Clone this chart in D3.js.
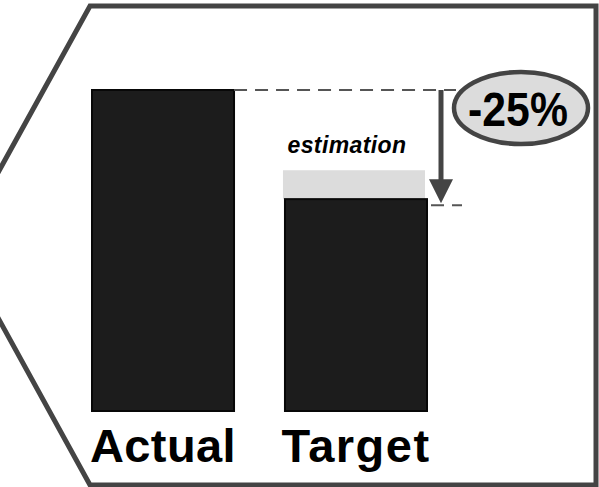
<!DOCTYPE html>
<html>
<head>
<meta charset="utf-8">
<script src="https://cdn.jsdelivr.net/npm/d3@7"></script>
<style>
  body { margin: 0; background: #fff; }
  svg { display: block; }
</style>
</head>
<body>
<div id="chart"></div>
<script>
const categories = ["Actual", "Target"];
const values = [100, 66];
const estimation = [null, 75];
const changeLabel = "-25%";
const estimationLabel = "estimation";

const width = 599, height = 487;

const svg = d3.select("#chart")
  .append("svg")
  .attr("width", width)
  .attr("height", height);

const x = d3.scaleBand()
  .domain(categories)
  .range([92, 427])
  .paddingInner(0.264)
  .paddingOuter(0);

const y = d3.scaleLinear()
  .domain([0, 100])
  .range([411, 90]);

// frame (arrow shape pointing left)
svg.append("path")
  .attr("d", d3.line()([[90, 6], [596, 6], [596, 485], [90, 485], [-42, 245]]) + "Z")
  .attr("fill", "none")
  .attr("stroke", "#444")
  .attr("stroke-width", 5)
  .attr("stroke-linejoin", "miter");

// estimation band
svg.append("g")
  .selectAll("rect")
  .data(categories.filter((d, i) => estimation[i] != null))
  .join("rect")
  .attr("x", d => x(d) - 2)
  .attr("width", x.bandwidth())
  .attr("y", d => y(estimation[categories.indexOf(d)]))
  .attr("height", d => y(values[categories.indexOf(d)]) - y(estimation[categories.indexOf(d)]))
  .attr("fill", "#dcdcdc");

// bars
svg.append("g")
  .selectAll("rect")
  .data(categories)
  .join("rect")
  .attr("x", d => x(d))
  .attr("width", x.bandwidth())
  .attr("y", (d, i) => y(values[i]))
  .attr("height", (d, i) => y(0) - y(values[i]))
  .attr("fill", "#1c1c1c")
  .attr("stroke", "#080808")
  .attr("stroke-width", 2);

// category labels
svg.append("g")
  .attr("font-family", "'Liberation Sans', Arial, sans-serif")
  .attr("font-weight", "bold")
  .attr("font-size", 47)
  .attr("text-anchor", "middle")
  .selectAll("text")
  .data(categories)
  .join("text")
  .attr("x", d => x(d) + x.bandwidth() / 2)
  .attr("y", 462)
  .attr("letter-spacing", d => d === "Target" ? 1.5 : 0.4)
  .attr("fill", "#000")
  .text(d => d);

// estimation label
svg.append("text")
  .attr("x", x("Target") + x.bandwidth() / 2 - 9)
  .attr("y", 153)
  .attr("text-anchor", "middle")
  .attr("font-family", "'Liberation Sans', Arial, sans-serif")
  .attr("font-weight", "bold")
  .attr("font-style", "italic")
  .attr("font-size", 23)
  .attr("letter-spacing", 0.4)
  .attr("fill", "#000")
  .text(estimationLabel);

// dashed reference lines
const xArrow = 441;
svg.append("line")
  .attr("x1", x("Actual") + x.bandwidth())
  .attr("x2", 456)
  .attr("y1", y(values[0]))
  .attr("y2", y(values[0]))
  .attr("stroke", "#555")
  .attr("stroke-width", 2)
  .attr("stroke-dasharray", "13,8");

svg.append("line")
  .attr("x1", x("Target") + x.bandwidth())
  .attr("x2", 462)
  .attr("y1", y(values[1]) + 6)
  .attr("y2", y(values[1]) + 6)
  .attr("stroke", "#555")
  .attr("stroke-width", 2)
  .attr("stroke-dasharray", "13,8")
  .attr("stroke-dashoffset", -4);

// arrow
svg.append("line")
  .attr("x1", xArrow)
  .attr("x2", xArrow)
  .attr("y1", y(values[0]))
  .attr("y2", y(values[1]) - 18)
  .attr("stroke", "#444")
  .attr("stroke-width", 5);

svg.append("path")
  .attr("d", d3.line()([[xArrow - 12, y(values[1]) - 20], [xArrow + 12, y(values[1]) - 20], [xArrow, y(values[1]) + 4]]) + "Z")
  .attr("fill", "#444");

// change badge
svg.append("ellipse")
  .attr("cx", 521)
  .attr("cy", 108)
  .attr("rx", 67)
  .attr("ry", 36)
  .attr("fill", "#dcdcdc")
  .attr("stroke", "#444")
  .attr("stroke-width", 4.5);

svg.append("text")
  .attr("transform", "translate(518,126) scale(0.95,1.08)")
  .attr("text-anchor", "middle")
  .attr("font-family", "'Liberation Sans', Arial, sans-serif")
  .attr("font-weight", "bold")
  .attr("font-size", 45)
  .attr("fill", "#000")
  .text(changeLabel);
</script>
</body>
</html>
